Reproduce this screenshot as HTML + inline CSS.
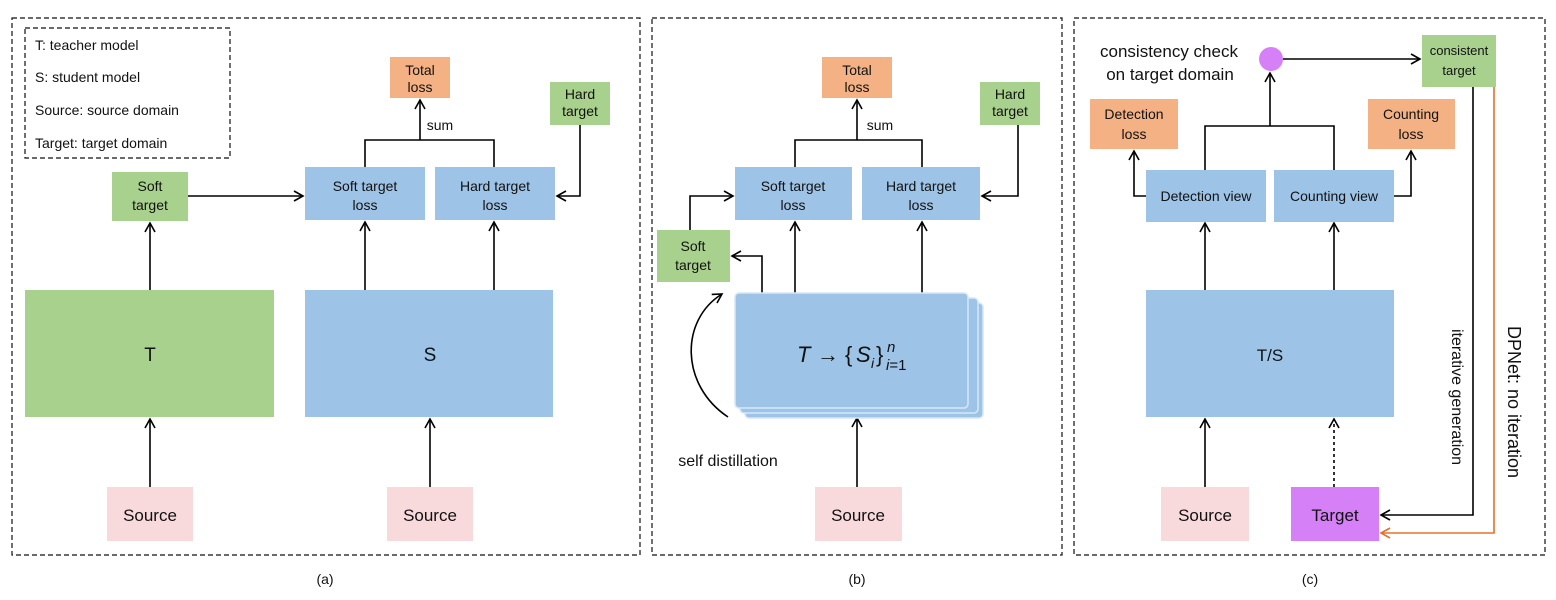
<!DOCTYPE html>
<html><head><style>body{margin:0;background:#fff}svg{display:block}text{font-family:"Liberation Sans",Arial,sans-serif}</style></head><body>
<svg width="1556" height="600" viewBox="0 0 1556 600" xmlns="http://www.w3.org/2000/svg">
<defs><marker id="a" markerWidth="12" markerHeight="12" refX="10" refY="6" orient="auto" markerUnits="userSpaceOnUse"><path d="M1,1 L10,6 L1,11" fill="none" stroke="#000" stroke-width="1.6"/></marker>
<marker id="o" markerWidth="12" markerHeight="12" refX="10" refY="6" orient="auto" markerUnits="userSpaceOnUse"><path d="M1,1 L10,6 L1,11" fill="none" stroke="#E8702A" stroke-width="1.6"/></marker></defs>
<g fill="none" stroke="#111" stroke-dasharray="5,3" stroke-width="1.2">
<rect x="12" y="18" width="628" height="537"/><rect x="652" y="18" width="410" height="537"/><rect x="1074" y="18" width="471" height="537"/><rect x="25" y="28" width="205" height="130"/></g>
<g font-size="14" fill="#111"><text x="35" y="50">T: teacher model</text><text x="35" y="82">S: student model</text><text x="35" y="115">Source: source domain</text><text x="35" y="148">Target: target domain</text></g>
<g stroke="#000" stroke-width="1.6" fill="none">
<line x1="150" y1="290" x2="150" y2="223" marker-end="url(#a)"/>
<line x1="188" y1="196" x2="303" y2="196" marker-end="url(#a)"/>
<polyline points="580,125 580,196 557,196" marker-end="url(#a)"/>
<polyline points="365,167 365,140 494,140 494,167"/>
<line x1="420" y1="140" x2="420" y2="100" marker-end="url(#a)"/>
<line x1="365" y1="290" x2="365" y2="222" marker-end="url(#a)"/>
<line x1="494" y1="290" x2="494" y2="222" marker-end="url(#a)"/>
<line x1="150" y1="487" x2="150" y2="419" marker-end="url(#a)"/>
<line x1="430" y1="487" x2="430" y2="419" marker-end="url(#a)"/>
<polyline points="1018,125 1018,196 982,196" marker-end="url(#a)"/>
<polyline points="795,167 795,140 922,140 922,167"/>
<line x1="857" y1="140" x2="857" y2="100" marker-end="url(#a)"/>
<line x1="795" y1="293" x2="795" y2="222" marker-end="url(#a)"/>
<line x1="922" y1="293" x2="922" y2="222" marker-end="url(#a)"/>
<polyline points="762,293 762,256 732,256" marker-end="url(#a)"/>
<polyline points="690,230 690,196 733,196" marker-end="url(#a)"/>
<line x1="857" y1="487" x2="857" y2="418" marker-end="url(#a)"/>
<path d="M728,417 C680,385 680,320 722,294" marker-end="url(#a)"/>
<line x1="1283" y1="59" x2="1420" y2="59" marker-end="url(#a)"/>
<polyline points="1205,170 1205,126 1334,126 1334,170"/>
<line x1="1270" y1="126" x2="1270" y2="73" marker-end="url(#a)"/>
<polyline points="1146,196 1134,196 1134,151" marker-end="url(#a)"/>
<polyline points="1394,196 1411,196 1411,151" marker-end="url(#a)"/>
<line x1="1205" y1="290" x2="1205" y2="223" marker-end="url(#a)"/>
<line x1="1334" y1="290" x2="1334" y2="223" marker-end="url(#a)"/>
<line x1="1205" y1="487" x2="1205" y2="419" marker-end="url(#a)"/>
<line x1="1334" y1="487" x2="1334" y2="419" stroke-dasharray="3,3" marker-end="url(#a)"/>
<polyline points="1473,87 1473,515 1381,515" marker-end="url(#a)"/>
<polyline points="1494,87 1494,533 1381,533" stroke="#E8702A" marker-end="url(#o)"/>
</g>
<g stroke="none">
<rect x="390" y="57" width="60" height="41" fill="#F4B183"/><rect x="550" y="82" width="60" height="43" fill="#A9D18E"/>
<rect x="112" y="172" width="76" height="49" fill="#A9D18E"/>
<rect x="305" y="167" width="120" height="53" fill="#9DC3E6"/><rect x="435" y="167" width="120" height="53" fill="#9DC3E6"/>
<rect x="25" y="290" width="249" height="127" fill="#A9D18E"/><rect x="305" y="290" width="248" height="127" fill="#9DC3E6"/>
<rect x="107" y="487" width="86" height="54" fill="#F9DADC"/><rect x="387" y="487" width="86" height="54" fill="#F9DADC"/>
<rect x="822" y="57" width="70" height="41" fill="#F4B183"/><rect x="980" y="82" width="60" height="43" fill="#A9D18E"/>
<rect x="735" y="167" width="117" height="53" fill="#9DC3E6"/><rect x="862" y="167" width="118" height="53" fill="#9DC3E6"/>
<rect x="657" y="230" width="73" height="52" fill="#A9D18E"/>
<rect x="745" y="303" width="238" height="115" rx="4" fill="#9DC3E6" stroke="#D6E7F6" stroke-width="1.5"/>
<rect x="740" y="298" width="238" height="115" rx="4" fill="#9DC3E6" stroke="#D6E7F6" stroke-width="1.5"/>
<rect x="735" y="293" width="233" height="115" rx="4" fill="#9DC3E6" stroke="#D6E7F6" stroke-width="1.5"/>
<rect x="815" y="487" width="87" height="54" fill="#F9DADC"/>
<circle cx="1271" cy="59" r="12" fill="#D580F7"/>
<rect x="1422" y="35" width="74" height="52" fill="#A9D18E"/>
<rect x="1090" y="99" width="88" height="50" fill="#F4B183"/><rect x="1368" y="99" width="87" height="50" fill="#F4B183"/>
<rect x="1146" y="170" width="120" height="52" fill="#9DC3E6"/><rect x="1274" y="170" width="120" height="52" fill="#9DC3E6"/>
<rect x="1146" y="290" width="248" height="127" fill="#9DC3E6"/>
<rect x="1161" y="487" width="88" height="54" fill="#F9DADC"/><rect x="1291" y="487" width="88" height="54" fill="#D580F7"/>
</g>
<g font-size="14" fill="#111" text-anchor="middle">
<text x="420" y="75">Total</text><text x="420" y="92">loss</text>
<text x="580" y="99">Hard</text><text x="580" y="116">target</text>
<text x="150" y="191">Soft</text><text x="150" y="210">target</text>
<text x="365" y="191">Soft target</text><text x="365" y="210">loss</text>
<text x="495" y="191">Hard target</text><text x="495" y="210">loss</text>
<text x="440" y="130">sum</text>
<text x="150" y="361" font-size="19">T</text><text x="430" y="361" font-size="19">S</text>
<text x="150" y="521" font-size="17">Source</text><text x="430" y="521" font-size="17">Source</text>
<text x="325" y="584">(a)</text>
<text x="857" y="75">Total</text><text x="857" y="92">loss</text>
<text x="1010" y="99">Hard</text><text x="1010" y="116">target</text>
<text x="793" y="191">Soft target</text><text x="793" y="210">loss</text>
<text x="921" y="191">Hard target</text><text x="921" y="210">loss</text>
<text x="880" y="130">sum</text>
<text x="693" y="251">Soft</text><text x="693" y="270">target</text>
<text x="728" y="466" font-size="16">self distillation</text>
<text x="858" y="521" font-size="17">Source</text>
<text x="857" y="584">(b)</text>
<text x="1459" y="55" font-size="13">consistent</text><text x="1459" y="75" font-size="13">target</text>
<text x="1134" y="119">Detection</text><text x="1134" y="139">loss</text>
<text x="1411" y="119">Counting</text><text x="1411" y="139">loss</text>
<text x="1206" y="201">Detection view</text><text x="1334" y="201">Counting view</text>
<text x="1270" y="361" font-size="17">T/S</text>
<text x="1205" y="521" font-size="17">Source</text><text x="1335" y="521" font-size="17">Target</text>
<text x="1310" y="584">(c)</text>
<text x="1169" y="57" font-size="17">consistency check</text><text x="1170" y="80" font-size="17">on target domain</text>
<text transform="translate(1452,397) rotate(90)" font-size="16">iterative generation</text>
<text transform="translate(1508,402) rotate(90)" font-size="18">DPNet:  no iteration</text>
</g>
<g fill="#111" font-size="22">
<text x="797" y="362" font-style="italic">T</text>
<text x="817" y="362">→</text>
<text x="845" y="362">{</text>
<text x="856" y="362" font-style="italic">S</text>
<text x="871" y="368" font-size="14" font-style="italic">i</text>
<text x="876" y="362">}</text>
<text x="887" y="352" font-size="15" font-style="italic">n</text>
<text x="886" y="370" font-size="15"><tspan font-style="italic">i</tspan>=1</text>
</g>
</svg>
</body></html>
